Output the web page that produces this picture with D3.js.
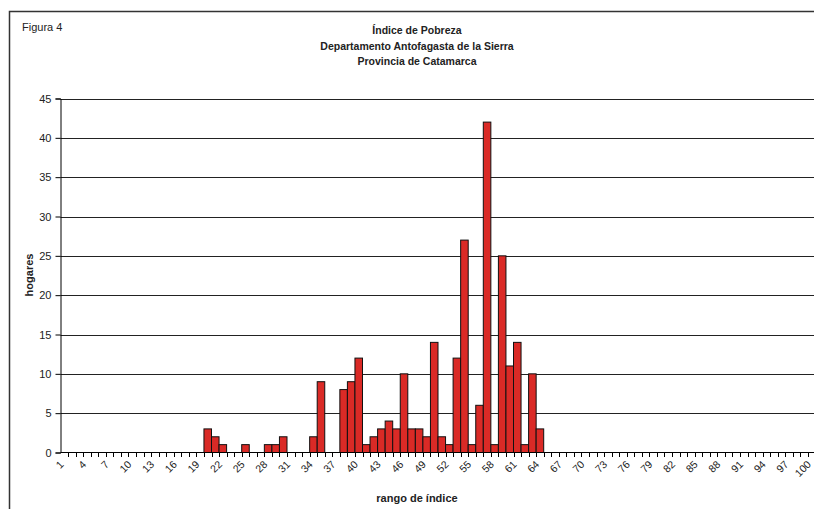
<!DOCTYPE html>
<html><head><meta charset="utf-8">
<script src="https://cdn.jsdelivr.net/npm/d3@7"></script>
<style>body{margin:0;background:#fff}svg{display:block;font-family:"Liberation Sans",Arial,sans-serif}</style>
</head><body><div id="chart"></div>
<script>
const categories = d3.range(1, 101);
const nonZeroCats = [20,21,22,25,28,29,30,34,35,38,39,40,41,42,43,44,45,46,47,48,49,50,51,52,53,54,55,56,57,58,59,60,61,62,63,64];
const nonZeroVals = [3,2,1,1,1,1,2,2,9,8,9,12,1,2,3,4,3,10,3,3,2,14,2,1,12,27,1,6,42,1,25,11,14,1,10,3];
const yTicks = [0,5,10,15,20,25,30,35,40,45];
const xTickLabels = d3.range(1, 101, 3);
const titleLines = ["Índice de Pobreza","Departamento Antofagasta de la Sierra","Provincia de Catamarca"];

const values = categories.map(c => { const i = nonZeroCats.indexOf(c); return i >= 0 ? nonZeroVals[i] : 0; });

const W = 814, H = 509;
const svg = d3.select("#chart").append("svg").attr("width", W).attr("height", H);

svg.append("rect").attr("x", 9.5).attr("y", 11.5).attr("width", W).attr("height", H)
  .attr("fill", "none").attr("stroke", "#333").attr("stroke-width", 1.5);

const x = d3.scaleBand().domain(categories).range([60.5, 815.5]).padding(0);
const y = d3.scaleLinear().domain([0, 45]).range([452.5, 98.5]);

// gridlines
svg.append("g").selectAll("line").data(yTicks.filter(d => d > 0)).join("line")
  .attr("x1", 60.5).attr("x2", W).attr("y1", d => Math.round(y(d)) + 0.5).attr("y2", d => Math.round(y(d)) + 0.5)
  .attr("stroke", "#222").attr("stroke-width", 1);

// bars
svg.append("g").selectAll("rect").data(categories.filter((c, i) => values[i] > 0)).join("rect")
  .attr("x", c => x(c)).attr("width", x.bandwidth())
  .attr("y", c => y(values[c - 1])).attr("height", c => y(0) - y(values[c - 1]))
  .attr("fill", "#da2a26").attr("stroke", "#111").attr("stroke-width", 1);

// y axis
const yAxis = svg.append("g").attr("transform", "translate(60.5,0)")
  .call(d3.axisLeft(y).tickValues(yTicks).tickSize(5).tickPadding(4).tickFormat(d3.format("d")));
yAxis.select(".domain").attr("stroke", "#000");
yAxis.selectAll(".tick line").attr("stroke", "#000");
yAxis.selectAll("text").attr("font-size", 11).attr("fill", "#222").attr("font-family", "Liberation Sans, Arial, sans-serif");

// x axis: ticks at category boundaries
const xg = svg.append("g");
xg.append("line").attr("x1", 60.5).attr("x2", W).attr("y1", 452.5).attr("y2", 452.5).attr("stroke", "#000");
xg.selectAll("line.tk").data(categories).join("line").attr("class", "tk")
  .attr("x1", c => Math.round(x(c) + x.bandwidth()) + 0.5).attr("x2", c => Math.round(x(c) + x.bandwidth()) + 0.5)
  .attr("y1", 452.5).attr("y2", 457).attr("stroke", "#000");
xg.selectAll("text").data(xTickLabels).join("text")
  .attr("transform", c => `translate(${x(c) + x.bandwidth() / 2},${465}) rotate(-45)`)
  .attr("text-anchor", "end").attr("font-size", 10.5).attr("fill", "#222").text(c => c);

// titles
svg.append("text").attr("x", 22).attr("y", 31).attr("font-size", 11).attr("fill", "#222").text("Figura 4");
svg.append("g").selectAll("text").data(titleLines).join("text")
  .attr("x", 417).attr("y", (d, i) => 34 + i * 15.5).attr("text-anchor", "middle")
  .attr("font-size", 10.5).attr("font-weight", "bold").attr("fill", "#222").text(d => d);

svg.append("text").attr("transform", "translate(33,275) rotate(-90)").attr("text-anchor", "middle")
  .attr("font-size", 11).attr("font-weight", "bold").attr("fill", "#222").text("hogares");
svg.append("text").attr("x", 417).attr("y", 502).attr("text-anchor", "middle")
  .attr("font-size", 11).attr("font-weight", "bold").attr("fill", "#222").text("rango de índice");
</script></body></html>
